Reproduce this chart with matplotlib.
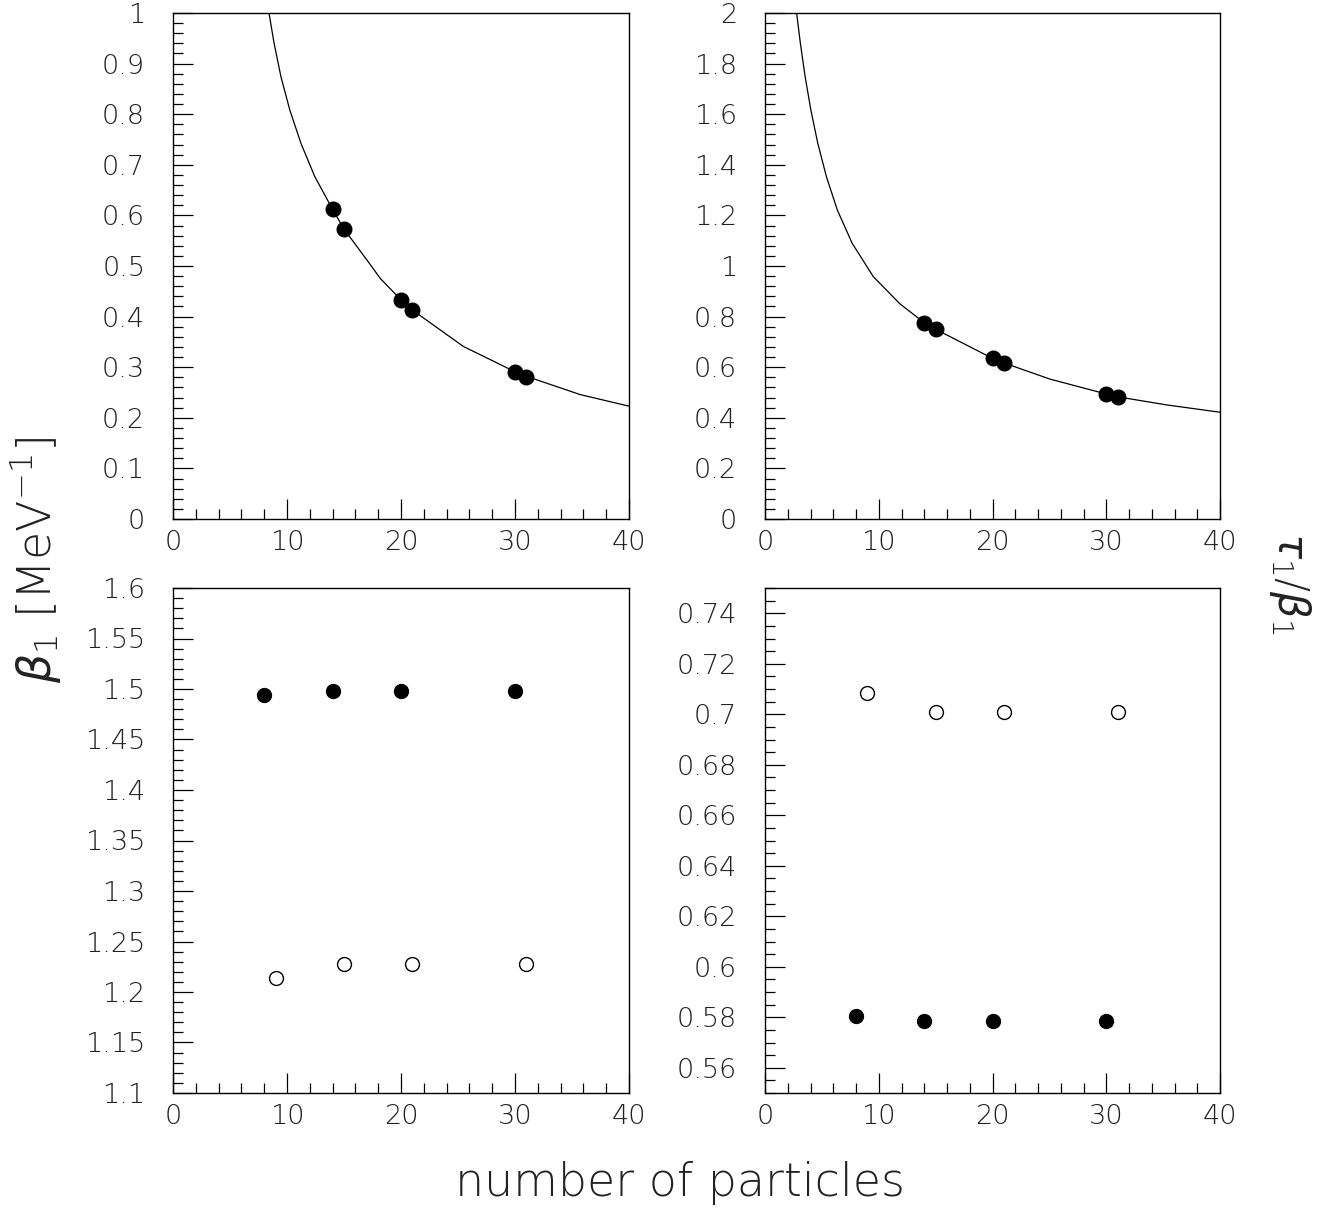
import matplotlib
matplotlib.use("Agg")
import matplotlib.pyplot as plt
from matplotlib.ticker import MultipleLocator, FormatStrFormatter

plt.rcParams['font.family'] = ['DejaVu Sans']
plt.rcParams['font.weight'] = 'light'
plt.rcParams['mathtext.fontset'] = 'dejavusans'

# top-left: beta_1 vs number of particles, fitted curve
n_top = [14, 15, 20, 21, 30, 31]
beta_top = [0.613, 0.573, 0.433, 0.413, 0.290, 0.281]
fit1_x = [8.42, 8.87, 9.47, 10.25, 11.23, 12.43, 14.0, 15.0, 17.43, 18.16, 20.0, 21.0, 25.47, 30.0, 31.0, 35.7, 40.0]
fit1_y = [1.0, 0.940, 0.874, 0.808, 0.742, 0.677, 0.612, 0.573, 0.499, 0.476, 0.433, 0.413, 0.341, 0.291, 0.282, 0.246, 0.223]

# top-right: tau_1/beta_1
ratio_top = [0.776, 0.750, 0.635, 0.617, 0.494, 0.483]
fit2_x = [2.78, 3.11, 3.53, 4.03, 4.64, 5.40, 6.36, 7.66, 9.52, 11.87, 14.0, 15.0, 20.0, 21.0, 25.05, 30.0, 31.0, 35.3, 40.0]
fit2_y = [2.0, 1.88, 1.748, 1.617, 1.485, 1.353, 1.221, 1.090, 0.958, 0.850, 0.776, 0.750, 0.635, 0.617, 0.553, 0.494, 0.483, 0.451, 0.422]

# bottom panels
n_full = [8, 14, 20, 30]
n_open = [9, 15, 21, 31]
beta_full = [1.494, 1.498, 1.498, 1.498]
beta_open = [1.214, 1.228, 1.228, 1.228]
ratio_full = [0.5805, 0.5785, 0.5785, 0.5785]
ratio_open = [0.7083, 0.7008, 0.7008, 0.7008]

W, H = 1331, 1211
fig = plt.figure(figsize=(W / 100, H / 100), dpi=100)


def make_ax(x0, x1, y0, y1, ylim, major, minor):
    ax = fig.add_axes([x0 / W, 1 - y1 / H, (x1 - x0) / W, (y1 - y0) / H])
    ax.set_xlim(0, 40)
    ax.set_ylim(*ylim)
    ax.xaxis.set_major_locator(MultipleLocator(10))
    ax.xaxis.set_minor_locator(MultipleLocator(2))
    ax.yaxis.set_major_locator(MultipleLocator(major))
    ax.yaxis.set_minor_locator(MultipleLocator(minor))
    ax.yaxis.set_major_formatter(FormatStrFormatter('%g'))
    ax.tick_params(which='both', direction='in', top=False, right=False,
                   width=0.9, labelsize=19.5, colors='black', labelcolor='#222222')
    ax.tick_params(which='major', length=14.5)
    ax.tick_params(which='minor', length=7)
    ax.tick_params(axis='y', pad=20)
    ax.tick_params(axis='x', pad=8)
    for s in ax.spines.values():
        s.set_linewidth(1.0)
    return ax


ax1 = make_ax(173, 629, 13, 519, (0, 1), 0.1, 0.02)
ax1.plot(fit1_x, fit1_y, color='black', lw=0.9)
ax1.plot(n_top, beta_top, 'o', color='black', ms=10.5)

ax2 = make_ax(765, 1220, 13, 519, (0, 2), 0.2, 0.04)
ax2.plot(fit2_x, fit2_y, color='black', lw=0.9)
ax2.plot(n_top, ratio_top, 'o', color='black', ms=10.5)

ax3 = make_ax(173, 629, 588, 1093, (1.1, 1.6), 0.05, 0.01)
ax3.plot(n_full, beta_full, 'o', color='black', ms=10)
ax3.plot(n_open, beta_open, 'o', mfc='white', mec='black', mew=1.0, ms=10)

ax4 = make_ax(765, 1220, 588, 1093, (0.55, 0.75), 0.02, 0.005)
ax4.plot(n_full, ratio_full, 'o', color='black', ms=10)
ax4.plot(n_open, ratio_open, 'o', mfc='white', mec='black', mew=1.0, ms=10)

fig.text(680 / W, 1 - 1183 / H, 'number of particles', ha='center', va='center',
         fontsize=33, color='#222222')
fig.text(36 / W, 1 - 560 / H, r'$\beta_1$ [MeV$^{-1}$]', ha='center', va='center',
         rotation=90, fontsize=33, color='#222222')
fig.text(1290 / W, 1 - 583 / H, r'$\tau_1/\beta_1$', ha='center', va='center',
         rotation=-90, fontsize=30, color='#222222')

fig.savefig('out.png', dpi=100)
